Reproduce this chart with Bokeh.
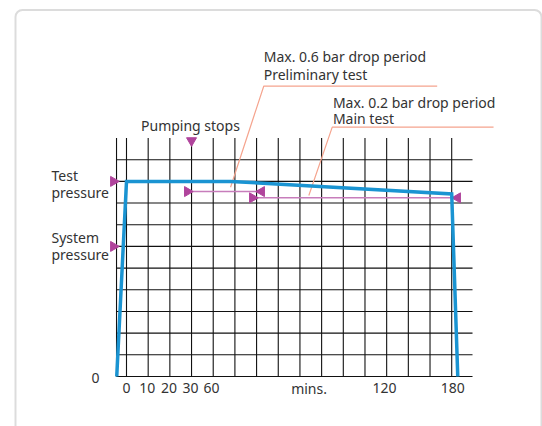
import math
from bokeh.plotting import figure
from bokeh.models import Range1d
from bokeh.core.properties import value
from bokeh.embed import file_html
from bokeh.resources import INLINE

# ---------------- data (grid units: x = minute columns, y = pressure rows) ----------
# pressure curve
curve_x = [-0.45, 0.0, 4.8, 15.0, 15.28]
curve_y = [0.0, 9.0, 9.0, 8.42, 0.0]

# grid
grid_cols = [-0.46, 0, 1, 2, 3, 4, 5, 6, 7, 8, 9, 10, 11, 12, 13, 14, 15]
grid_rows = [0, 1, 2, 3, 4, 5, 6, 7, 8, 9, 10]
grid_x_end = 15.96
grid_y_top = 11.0

# x axis labels
x_tick_pos = [0, 0.96, 1.96, 2.95, 3.92, 8.42, 11.9, 15.05]
x_tick_labels = ["0", "10", "20", "30", "60", "mins.", "120", "180"]

# y labels
y_label_text = ["Test", "pressure", "System", "pressure"]
y_label_y = [9.27, 8.49, 6.41, 5.63]
zero_label = "0"

# level markers (pointing right)
level_y = [9.0, 6.0]
level_x = -0.6

# pumping stops marker
pump_x = 3.0
pump_y = 10.88

# drop-period arrows
prelim_span = [2.81, 6.23]
prelim_y = 8.53
main_span = [5.81, 15.27]
main_y = 8.24

# annotation texts
ann_text = ["Max. 0.6 bar drop period", "Preliminary test",
            "Max. 0.2 bar drop period", "Main test"]
ann_x = [6.33, 6.33, 9.52, 9.52]
ann_y = [14.76, 13.93, 12.66, 11.90]
pump_text = "Pumping stops"
pump_text_y = 11.58

# leader lines
lead1_x = [4.80, 6.33, 14.33]
lead1_y = [8.73, 13.39, 13.39]
lead2_x = [8.41, 9.49, 16.93]
lead2_y = [8.35, 11.50, 11.50]

# ---------------- styles --------------------------------------------------------
S = 21.68
FONT = value("Noto Sans")
TXT = "#333333"
BLUE = "#1a94d2"
MAG = "#b0449c"
MAG_LINE = "#c77dbb"
SALMON = "#f5a48e"

W, H = 542, 426
OX, OY = 0, 0  # page position of the canvas origin
p = figure(width=W, height=H, output_backend="svg", toolbar_location=None,
           x_axis_type=None, y_axis_type=None, min_border=0,
           x_range=Range1d((OX - 126) / S, (OX + W - 126) / S),
           y_range=Range1d((376 - (OY + H)) / S, (376 - OY) / S))
p.outline_line_color = None
p.grid.visible = False
p.background_fill_color = "white"
p.border_fill_color = "white"

# card frame
p.quad(left=[(15 - 126) / S], right=[(541 - 126) / S],
       top=[(376 - 9.5) / S], bottom=[(376 - 480) / S],
       fill_color="white", line_color="#dcdcdc", line_width=2,
       border_radius=7)

# grid
p.segment(x0=grid_cols, y0=[0] * len(grid_cols), x1=grid_cols,
          y1=[grid_y_top] * len(grid_cols), line_color="#111111", line_width=1.1)
p.segment(x0=[grid_cols[0]] * len(grid_rows), y0=grid_rows,
          x1=[grid_x_end] * len(grid_rows), y1=grid_rows,
          line_color="#111111", line_width=1.1)

# leader lines
p.line(lead1_x, lead1_y, line_color=SALMON, line_width=1.2)
p.line(lead2_x, lead2_y, line_color=SALMON, line_width=1.2)

# drop-period arrows
p.segment(x0=[prelim_span[0], main_span[0]], y0=[prelim_y, main_y],
          x1=[prelim_span[1], main_span[1]], y1=[prelim_y, main_y],
          line_color=MAG_LINE, line_width=1.5)
p.scatter([prelim_span[0], main_span[0]], [prelim_y, main_y], marker="triangle",
          size=10, angle=-math.pi / 2, fill_color=MAG, line_color=MAG)
p.scatter([prelim_span[1], main_span[1]], [prelim_y, main_y], marker="triangle",
          size=10, angle=math.pi / 2, fill_color=MAG, line_color=MAG)

# level markers and pump marker
p.scatter([level_x] * len(level_y), level_y, marker="triangle", size=10,
          angle=-math.pi / 2, fill_color=MAG, line_color=MAG)
p.scatter([pump_x], [pump_y], marker="triangle", size=10, angle=math.pi,
          fill_color=MAG, line_color=MAG)

# pressure curve
p.line(curve_x, curve_y, line_color=BLUE, line_width=3.5, line_join="miter")

# texts
p.text(x=x_tick_pos, y=[-0.55] * len(x_tick_pos), text=x_tick_labels,
       text_font=FONT, text_font_size="14px", text_color=TXT,
       text_align="center", text_baseline="middle")
p.text(x=[-3.46] * len(y_label_text), y=y_label_y, text=y_label_text,
       text_font=FONT, text_font_size="14px", text_color=TXT,
       text_align="left", text_baseline="middle")
p.text(x=[-1.43], y=[-0.05], text=[zero_label],
       text_font=FONT, text_font_size="14px", text_color=TXT,
       text_align="center", text_baseline="middle")
p.text(x=ann_x, y=ann_y, text=ann_text,
       text_font=FONT, text_font_size="14px", text_color=TXT,
       text_align="left", text_baseline="middle")
p.text(x=[pump_x - 0.05], y=[pump_text_y], text=[pump_text],
       text_font=FONT, text_font_size="14px", text_color=TXT,
       text_align="center", text_baseline="middle")

open("out.html", "w").write(file_html(p, INLINE))
